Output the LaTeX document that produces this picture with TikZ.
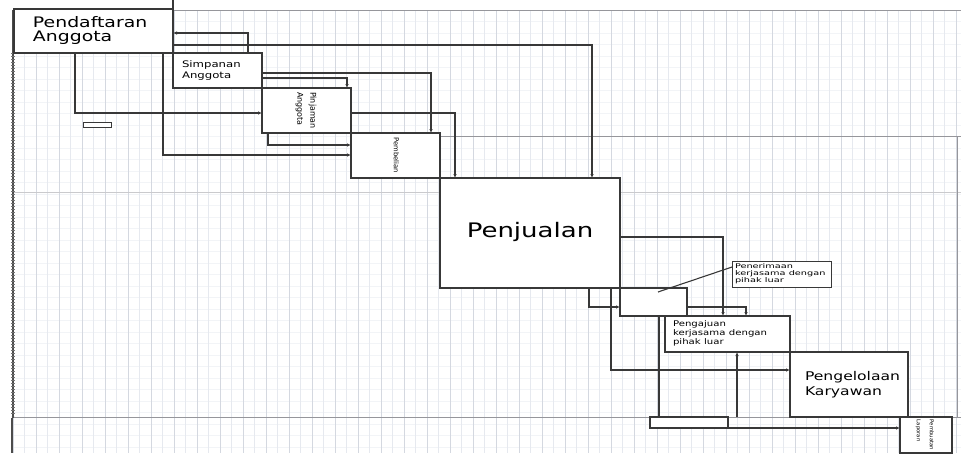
\documentclass[tikz,border=0pt]{standalone}
\usepackage{fontspec}
\setmainfont{DejaVu Sans}
\usetikzlibrary{arrows.meta,positioning}
\definecolor{gridfaint}{RGB}{230,233,239}
\definecolor{gridmid}{RGB}{212,216,224}
\definecolor{gridrow}{RGB}{242,244,247}
\definecolor{pageline}{RGB}{150,150,155}
\colorlet{boxline}{black!78}
\newcommand{\stretched}[2][1.3]{\scalebox{#1}[1]{\begin{tabular}{@{}l@{}}#2\end{tabular}}}
\newcommand{\upright}[1]{\rotatebox{-90}{\begin{tabular}{@{}l@{}}#1\end{tabular}}}

\begin{document}
\begin{tikzpicture}[x=1pt,y=-1pt,
  proc/.style={draw=boxline,line width=1.3pt,fill=white,anchor=north west,inner sep=0pt,outer sep=0pt},
  lbox/.style={proc,align=left},
  note/.style={draw=boxline,line width=0.8pt,fill=white,anchor=north west,inner sep=0pt,outer sep=0pt,align=left},
  flow/.style={draw=boxline,line width=1.1pt,-{Latex[length=4pt,width=3.5pt]}},
  link/.style={draw=boxline,line width=1.1pt}]
\useasboundingbox (0,0) rectangle (961,453);
\clip (0,0) rectangle (961,453);

% background grid
\foreach \gy in {0,...,38}
  \draw[gridrow] (13,10+\gy*11.5) -- (961,10+\gy*11.5);
\foreach \gx in {0,...,82}
  \draw[gridfaint] (13+\gx*11.5,10) -- (13+\gx*11.5,453);
\foreach \gx in {0,...,41}
  \draw[gridmid] (13+\gx*23,10) -- (13+\gx*23,453);

% page edges
\draw[pageline] (13,10) -- (961,10);
\draw[pageline!50] (13,192) -- (961,192);
\draw[pageline] (440,136) -- (961,136) (957,136) -- (957,417);
\draw[pageline] (13,417) -- (961,417);
\draw[black!70,line width=1.4pt] (13,10) -- (13,418) (12,418) -- (12,453);
\draw[black!55,line width=4pt,dash pattern=on 0.8pt off 2.2pt] (13,53) -- (13,416);

% processes
\node[lbox, text width=159pt, minimum height=44pt, font=\fontsize{14.5}{14}\selectfont] (pa) at (14,9)
  {\noindent\hspace*{19pt}\stretched{Pendaftaran\\Anggota}};
\node[lbox, text width=89pt, minimum height=35pt, font=\fontsize{9}{11}\selectfont] (sa) at (pa.south east)
  {\noindent\hspace*{9pt}\stretched{Simpanan\\Anggota}};
\node[proc, minimum width=89pt, minimum height=45pt, font=\fontsize{8}{13}\selectfont] (pj) at (sa.south east)
  {\upright{Pinjaman\\Anggota}};
\node[proc, minimum width=89pt, minimum height=45pt, font=\fontsize{6.8}{8}\selectfont] (pb) at (pj.south east)
  {\upright{Pembelian}};
\node[proc, minimum width=180pt, minimum height=110pt, font=\fontsize{20}{24}\selectfont] (pn) at (pb.south east)
  {\raisebox{3pt}{\stretched{Penjualan}}};
\node[proc, minimum width=67pt, minimum height=28pt] (kb) at (pn.south east) {};
\node[lbox, text width=125pt, minimum height=36pt, font=\fontsize{7.8}{9}\selectfont] (pg) at ([xshift=-22pt]kb.south east)
  {\noindent\hspace*{8pt}\stretched{Pengajuan\\kerjasama dengan\\pihak luar}};
\node[lbox, text width=118pt, minimum height=65pt, font=\fontsize{12}{15}\selectfont] (pk) at (pg.south east)
  {\noindent\hspace*{15pt}\stretched{Pengelolaan\\Karyawan}};
\node[proc, minimum width=52pt, minimum height=36pt, font=\fontsize{5.3}{13}\selectfont] (lp) at ([xshift=-8pt]pk.south east)
  {\upright{Pembuatan\\Laporan}};
\node[note, text width=99pt, minimum height=26pt, font=\fontsize{6.5}{7}\selectfont] (pt) at (732,261)
  {\noindent\hspace*{3pt}\stretched[1.5]{Penerimaan\\kerjasama dengan\\pihak luar}};
\node[proc, line width=0.9pt, minimum width=28pt, minimum height=5pt] (sm) at (83,122) {};
\node[proc, line width=1.1pt, minimum width=78pt, minimum height=11pt] (sb) at (650,417) {};
\coordinate (nt) at (658,292);

% flows
\draw[boxline,line width=1.3pt] (pa.north east) -- (pa.north east |- 0,0);
\draw[flow] (sa.north -| 248,0) |- (pa.east |- 0,33);
\draw[flow] (pa.east |- 0,45) -| (pn.north -| 592,0);
\draw[flow] (pa.south -| 75,0) |- (pj.west |- 0,113);
\draw[flow] (pa.south -| 163,0) |- (pb.west |- 0,155);
\draw[flow] (sa.east |- 0,73) -| (pb.north -| 431,0);
\draw[flow] (sa.east |- 0,78) -| (pj.north -| 347,0);
\draw[flow] (pj.south -| 268,0) |- (pb.west |- 0,145);
\draw[flow] (pj.east |- 0,113) -| (pn.north -| 455,0);
\draw[flow] (pn.east |- 0,237) -| (pg.north -| 723,0);
\draw[flow] (pn.south -| 589,0) |- (kb.west |- 0,307);
\draw[flow] (pn.south -| 611,0) |- (pk.west |- 0,370);
\draw[flow] (kb.east |- 0,307) -| (pg.north -| 746,0);
\draw[link] (nt) -- (pt.west |- 0,267);
\draw[link] (kb.south -| 659,0) -- (sb.north -| 659,0);
\draw[flow] (sb.north east -| 737,0) -- (pg.south -| 737,0);
\draw[flow] (sb.south east) -- (lp.west |- sb.south east);
\end{tikzpicture}
\end{document}
